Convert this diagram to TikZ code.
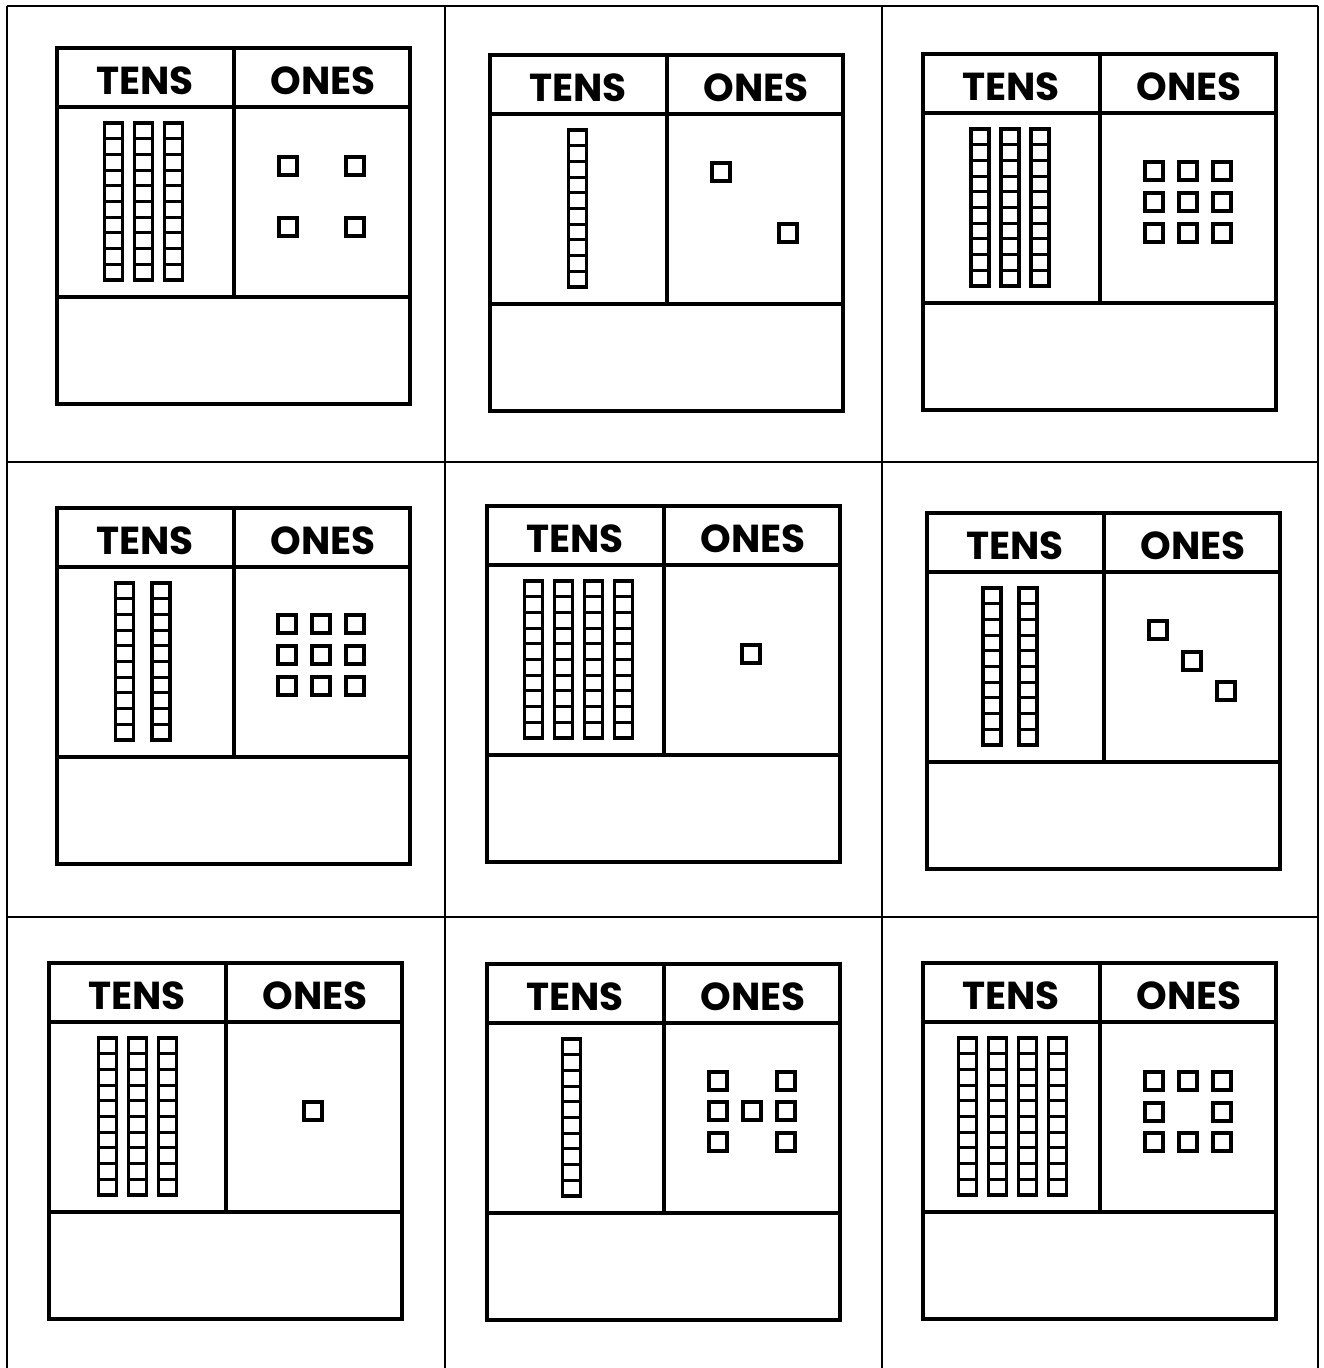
\documentclass[tikz,border=0pt]{standalone}
\usepackage{fontspec}
\newfontfamily\lblfont{Poppins}[BoldFont=* Bold]
\tikzset{
  gridline/.style={line width=1.1pt, black},
  chartline/.style={line width=1.8pt, black},
  cube/.style={line width=1.55pt, black},
  onesq/.style={line width=1.6pt, black},
  lbl/.style={inner sep=0pt, font=\lblfont\bfseries\fontsize{19.5}{20}\selectfont}
}
\newcommand\pvchart[5]{%
  \draw[chartline] (#2,#3) rectangle ++(353,356);
  \draw[chartline] (#2,#3+59) -- ++(353,0);
  \draw[chartline] (#2,#3+249) -- ++(353,0);
  \draw[chartline] (#2+177,#3) -- ++(0,249);
  \node[lbl] (#1t) at (#2+88,#3+33) {TENS};
  \node[lbl] (#1o) at (#2+266,#3+33) {ONES};
  \foreach \rx in {#4} {%
    \draw[cube] (\rx-9,#3+75) rectangle ++(18,157);
    \foreach \k in {1,...,9} \draw[cube] (\rx-9,#3+75+\k*15.7) -- ++(18,0);
  }
  \foreach \ox/\oy in {#5} \draw[onesq] (\ox-9,\oy-9) rectangle ++(18,18);
}
\begin{document}
\begin{tikzpicture}[x=0.5pt,y=-0.5pt]
\useasboundingbox (0,0) rectangle (1323,1368);
% outer grid
\foreach \gx in {7,445,882,1318} \draw[gridline] (\gx,6) -- (\gx,1368);
\foreach \gy in {6,462,917} \draw[gridline] (7,\gy) -- (1318,\gy);
% charts
\pvchart{ca}{57}{48}{113.5,143.5,173.5}{288/166,355/166,288/227,355/227}
\pvchart{cb}{490}{55}{577.5}{721/172,788/233}
\pvchart{cc}{923}{54}{980,1010,1040}{1154/171,1188/171,1222/171,1154/202,1188/202,1222/202,1154/233,1188/233,1222/233}
\pvchart{cd}{57}{508}{124.5,161}{287/624,321/624,355/624,287/655,321/655,355/655,287/686,321/686,355/686}
\pvchart{ce}{487}{506}{533.5,563.5,593.5,623.5}{751/654}
\pvchart{cf}{927}{513}{992,1028}{1158/630,1192/661,1226/691}
\pvchart{cg}{49}{963}{107.5,137.5,167.5}{313/1111}
\pvchart{ch}{487}{964}{571.5}{718/1081,786/1081,718/1111,752/1111,786/1111,718/1142,786/1142}
\pvchart{ci}{923}{963}{967.5,997.5,1027.5,1057.5}{1154/1081,1188/1081,1222/1081,1154/1112,1222/1112,1154/1142,1188/1142,1222/1142}
\end{tikzpicture}
\end{document}
